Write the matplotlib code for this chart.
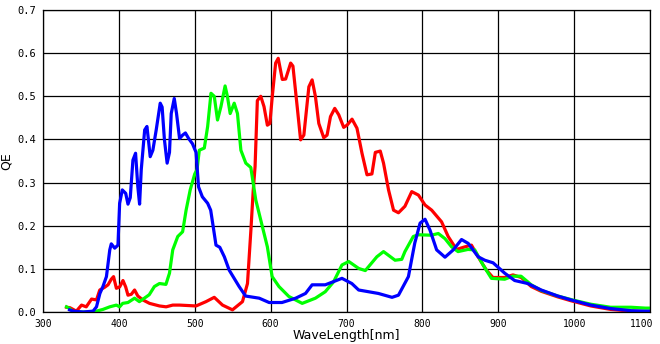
import matplotlib
matplotlib.use("Agg")
import matplotlib.pyplot as plt
from matplotlib.transforms import ScaledTranslation

# QE curves per colour channel, wavelength in nm
RED_WL = [331, 335.4, 344, 350.8, 357, 364, 370.5, 374.8, 381, 385.7, 390, 393, 396.7, 401,
          405.4, 409, 412, 416.4, 420.7, 425, 431.6, 440.4, 453.5, 462.3, 471, 480, 501.7,
          514.8, 525.7, 536.6, 549.7, 562.9, 569.5, 574, 577, 579.5, 582.5, 587, 591.3, 595.7,
          599, 602.2, 606.6, 610, 615.4, 619.8, 626.4, 629.4, 635, 639.5, 643.8, 650.4,
          654.7, 659, 663.5, 670, 674.4, 678.9, 684.5, 689.8, 696.3, 700.7, 707.3, 713.8,
          720.4, 727, 733.5, 738, 744.5, 748.8, 755.4, 762, 768.5, 777, 786, 794.8, 803.5,
          812.3, 825.3, 834, 845, 856, 864.7, 873.5, 884.4, 893, 908.5, 919.4, 930.3, 943.5,
          956.6, 978.5, 996, 1022, 1048, 1075, 1094, 1100]
RED_QE = [0.011, 0.01, 0.002, 0.016, 0.012, 0.03, 0.028, 0.051, 0.057, 0.063, 0.076, 0.082,
          0.055, 0.058, 0.073, 0.058, 0.039, 0.041, 0.051, 0.037, 0.028, 0.02, 0.014, 0.012,
          0.016, 0.016, 0.014, 0.024, 0.034, 0.016, 0.005, 0.024, 0.066, 0.19, 0.28, 0.337,
          0.49, 0.5, 0.476, 0.433, 0.437, 0.5, 0.577, 0.588, 0.539, 0.54, 0.577, 0.57, 0.476,
          0.399, 0.41, 0.522, 0.538, 0.5, 0.437, 0.404, 0.41, 0.453, 0.472, 0.457, 0.428,
          0.433, 0.447, 0.426, 0.368, 0.318, 0.32, 0.37, 0.373, 0.345, 0.283, 0.236, 0.23,
          0.245, 0.279, 0.271, 0.248, 0.236, 0.209, 0.175, 0.145, 0.151, 0.155, 0.128, 0.097,
          0.08, 0.08, 0.086, 0.08, 0.059, 0.048, 0.035, 0.026, 0.014, 0.006, 0.002, 0.001,
          0.001]

GREEN_WL = [331, 335, 340, 357, 370.5, 379, 388, 396.7, 401, 405, 412, 420.7, 427, 436, 440,
            446.8, 453.5, 462, 466.7, 471, 477.6, 484, 488.6, 494, 500, 503, 506, 512.6, 517,
            521.4, 525.7, 530, 534.5, 540, 543, 546.7, 552, 556.3, 560.8, 567.3, 573.9, 580.4,
            587, 595.7, 602, 611, 624, 641.6, 659, 672, 683, 694, 703, 716, 724.8, 740, 748.8,
            764, 772.8, 777, 788, 794.8, 812, 821, 829.8, 838.5, 847, 860, 869, 880, 891,
            908.5, 919, 930, 943.5, 956.6, 978.5, 1000, 1022, 1048, 1075, 1094, 1100]
GREEN_QE = [0.012, 0.008, 0.0, 0.0, 0.002, 0.006, 0.012, 0.016, 0.012, 0.02, 0.022, 0.032,
            0.024, 0.035, 0.04, 0.059, 0.066, 0.064, 0.09, 0.144, 0.175, 0.186, 0.236, 0.283,
            0.32, 0.33, 0.375, 0.38, 0.43, 0.507, 0.5, 0.445, 0.476, 0.524, 0.5, 0.46, 0.484,
            0.46, 0.375, 0.345, 0.335, 0.26, 0.213, 0.151, 0.082, 0.059, 0.036, 0.02, 0.032,
            0.047, 0.07, 0.109, 0.117, 0.101, 0.096, 0.128, 0.14, 0.12, 0.122, 0.14, 0.175,
            0.179, 0.178, 0.182, 0.17, 0.151, 0.14, 0.145, 0.144, 0.109, 0.078, 0.076, 0.083,
            0.083, 0.063, 0.05, 0.037, 0.027, 0.018, 0.011, 0.011, 0.009, 0.009]

BLUE_WL = [335, 340, 353, 366, 370.5, 375, 379, 383.6, 388, 390, 394.5, 398.8, 401, 404.5,
           409, 412, 415, 418.5, 422, 425, 427.3, 429.5, 434, 437, 439.5, 441.3, 444.8, 449.2,
           454.5, 457, 460, 463.6, 466.7, 469, 473, 476, 480, 484, 487.7, 492, 497, 501.7,
           505, 510, 517, 521, 525, 528, 533, 539, 545.4, 558.5, 567, 585, 598, 615, 633,
           646, 654.7, 672, 694, 707, 716, 742, 760, 768.5, 781.6, 790, 797, 803.5, 810,
           818.8, 829.8, 840.7, 851.6, 860.4, 873.5, 882.3, 893.2, 908.5, 921.6, 939, 956.6,
           978.5, 996, 1022, 1048, 1075, 1094, 1100]
BLUE_QE = [0.005, 0.002, 0.0, 0.002, 0.012, 0.043, 0.059, 0.082, 0.144, 0.158, 0.148, 0.155,
           0.252, 0.283, 0.275, 0.25, 0.265, 0.352, 0.368, 0.29, 0.25, 0.33, 0.422, 0.43,
           0.39, 0.36, 0.375, 0.422, 0.484, 0.475, 0.4, 0.345, 0.37, 0.46, 0.495, 0.46, 0.402,
           0.41, 0.415, 0.402, 0.39, 0.37, 0.29, 0.267, 0.252, 0.236, 0.19, 0.155, 0.15,
           0.128, 0.097, 0.059, 0.037, 0.032, 0.022, 0.022, 0.032, 0.043, 0.063, 0.063,
           0.078, 0.066, 0.051, 0.043, 0.034, 0.039, 0.082, 0.16, 0.206, 0.215, 0.19, 0.144,
           0.127, 0.144, 0.168, 0.159, 0.128, 0.12, 0.114, 0.09, 0.073, 0.066, 0.051, 0.037,
           0.028, 0.016, 0.008, 0.003, 0.002, 0.002]

X_TICKS = [300, 400, 500, 600, 700, 800, 900, 1000, 1100]
Y_TICKS = [0.0, 0.1, 0.2, 0.3, 0.4, 0.5, 0.6, 0.7]

fig = plt.figure(figsize=(6.6, 3.44), dpi=100)
ax = fig.add_axes([43 / 660, 32 / 344, 607 / 660, 302 / 344])

for wl, qe, color in [(RED_WL, RED_QE, "#ff0000"),
                      (GREEN_WL, GREEN_QE, "#00ff00"),
                      (BLUE_WL, BLUE_QE, "#0000ff")]:
    ax.plot(wl, qe, color=color, linewidth=2.3, solid_joinstyle="round")

ax.set_xlim(300, 1100)
ax.set_ylim(0, 0.7)
ax.set_xticks(X_TICKS)
ax.set_yticks(Y_TICKS)
ax.set_xticklabels([str(t) for t in X_TICKS], family="DejaVu Sans Mono", fontsize=7)
ax.set_yticklabels([f"{t:.1f}" for t in Y_TICKS], family="DejaVu Sans Mono", fontsize=7.5)
ax.tick_params(length=0, pad=5)
ax.grid(True, color="black", linewidth=0.9)
ax.set_axisbelow(True)
for s in ax.spines.values():
    s.set_color("black")
    s.set_linewidth(0.9)

# keep the last x label inside the figure
last = ax.get_xticklabels()[-1]
last.set_transform(last.get_transform() + ScaledTranslation(-6 / 72, 0, fig.dpi_scale_trans))

ax.set_xlabel("WaveLength[nm]", fontsize=9, labelpad=0)
ax.set_ylabel("QE", fontsize=9, labelpad=3)

fig.savefig("out.png", dpi=100)
